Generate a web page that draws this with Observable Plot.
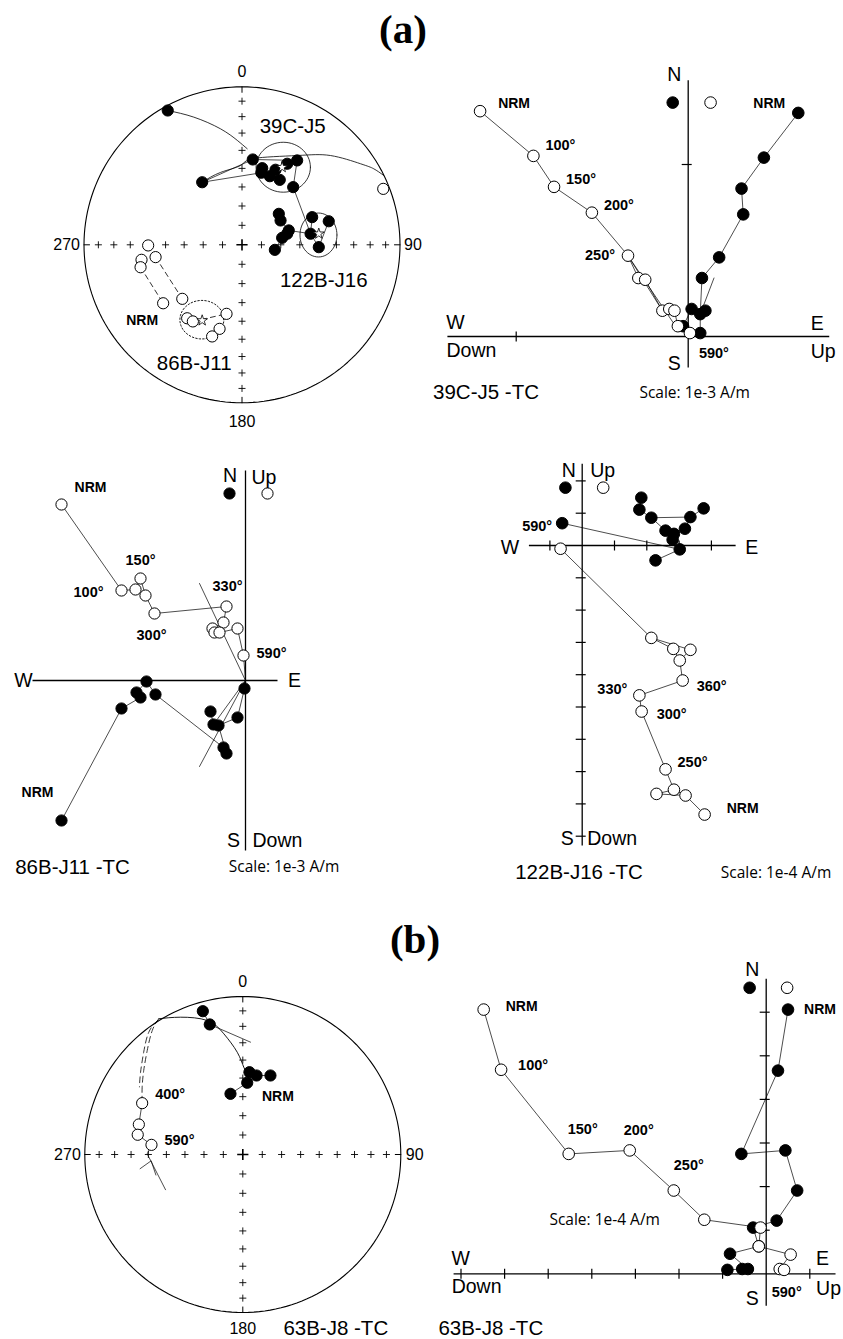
<!DOCTYPE html>
<html>
<head>
<meta charset="utf-8">
<script src="https://cdn.jsdelivr.net/npm/d3@7"></script>
<script src="https://cdn.jsdelivr.net/npm/@observablehq/plot@0.6"></script>
<style>
  html,body{margin:0;padding:0;background:#fff;}
  #page{position:relative;width:843px;height:1339px;overflow:hidden;background:#fff;}
  #page svg{position:absolute;left:0;top:0;}
  .cap{position:absolute;white-space:nowrap;line-height:1;transform:translate(-50%,-50%);color:#000;font-family:"Liberation Sans",Arial,sans-serif;}
  .title{font-family:"Liberation Serif","DejaVu Serif",serif;font-weight:bold;font-size:41px;}
  .spec{font-size:20.5px;}
  .scale{font-family:"Open Sans","Noto Sans",sans-serif;font-size:15.5px;}
</style>
</head>
<body>
<div id="page"></div>
<script>
// ======================= DATA =======================
// --- Equal-area stereonets: (east, north) positions as fraction of the primitive radius
const netIncs = [10, 20, 30, 40, 50, 60, 70, 80];
const cardinals = ["0", "90", "180", "270"];

// (a) site 39C-J5 (filled = lower hemisphere)
const s39c = [[-0.470,0.850],[-0.252,0.396],[0.068,0.540],[0.128,0.485],[0.122,0.456],[0.176,0.434],[0.212,0.475],[0.239,0.411],[0.286,0.513],[0.349,0.534],[0.324,0.365]];
const s39cOpen = [[0.894,0.354]];
const s39cMean = [[0.254,0.491]];
const s39cCone = [0.261,0.491,0.172,0.158];
const s39cArcs = [
  [[-0.470,0.850],[-0.305,0.808],[-0.136,0.734],[-0.030,0.661],[0.033,0.608]],
  [[-0.252,0.396],[-0.136,0.458],[-0.009,0.502],[0.073,0.546],[0.349,0.565],[0.560,0.565],[0.750,0.513],[0.834,0.481],[0.897,0.439]]
];
const s39cPaths = [[1,2],[1,4],[2,9,10],[3,5,7],[4,6,8]];

// (a) site 122B-J16
const s122b = [[0.233,0.196],[0.244,0.154],[0.296,0.091],[0.286,0.070],[0.254,0.044],[0.208,-0.032],[0.444,0.175],[0.549,0.149],[0.434,0.070],[0.486,-0.015]];
const s122bMean = [[0.486,0.070]];
const s122bCone = [0.484,0.062,0.117,0.139];
const s122bPaths = [[0,1,2,3,4,5],[2,8,6],[8,9,7]];

// (a) site 86B-J11 (open = upper hemisphere)
const s86b = [[-0.594,-0.004],[-0.636,-0.095],[-0.547,-0.078],[-0.642,-0.142],[-0.499,-0.370],[-0.378,-0.342],[-0.347,-0.465],[-0.311,-0.485],[-0.098,-0.437],[-0.142,-0.532],[-0.189,-0.580]];
const s86bMean = [[-0.252,-0.479]];
const s86bCone = [-0.254,-0.474,0.139,0.122];
const s86bDashed = [[3,4],[2,5],[7,8]];

// (b) site 63B-J8
const s63bFilled = [[-0.253,0.907],[-0.209,0.823],[0.042,0.521],[0.087,0.500],[0.175,0.500],[0.028,0.454],[-0.078,0.384]];
const s63bFilledPaths = [[0,1],[2,3,4],[3,5,6]];
const s63bOpen = [[-0.637,0.325],[-0.658,0.190],[-0.665,0.125],[-0.578,0.061]];
const s63bOpenPaths = [[0,1,2,3]];
const s63bArc = [[-0.532,0.859],[-0.394,0.869],[-0.225,0.848],[-0.120,0.764],[-0.035,0.647],[0.006,0.553],[0.028,0.521]];
const s63bFit = [[-0.209,0.823],[0.049,0.711]];
const s63bDashed = [
  [[-0.532,0.859],[-0.573,0.785],[-0.605,0.658],[-0.627,0.532],[-0.637,0.426],[-0.637,0.342]],
  [[-0.540,0.848],[-0.595,0.774],[-0.627,0.649],[-0.647,0.521],[-0.654,0.428]]
];
const s63bTail = [
  [[-0.578,0.061],[-0.605,0.004],[-0.489,-0.223]],
  [[-0.650,-0.090],[-0.580,-0.040],[-0.550,-0.130]]
];

// --- Zijderveld diagrams. filled = horizontal projection (E, N); open = vertical projection (Up, N)
// 39C-J5 (units 1e-3 A/m)
const z39cFilled = [[0.64,1.30],[0.44,1.04],[0.31,0.86],[0.32,0.71],[0.18,0.46],[0.08,0.34],[0.02,0.16],[0.07,0.13],[0.10,0.15],[-0.03,0.06],[0.07,0.02]];
const z39cOpen = [[-1.21,1.31],[-0.90,1.05],[-0.78,0.87],[-0.56,0.72],[-0.35,0.47],[-0.29,0.34],[-0.25,0.33],[-0.15,0.15],[-0.11,0.16],[-0.08,0.15],[-0.06,0.06],[0.01,0.02]];
const z39cFilledPaths = [[0,1,2,3,4,5,7,6,9,-1],[7,8],[7,10,-1]];
const z39cOpenPaths = [[0,1,2,3,4,5,6,7,8,9,10,11],[4,7]];
const z39cFits = [[[0.15,0.34],[0.07,0.13]],[[-0.33,0.44],[-0.06,0.04]]];
const z39cKey = [[-0.09,1.36],[0.13,1.36]];
const z39cAxisX = [-1.40, 0.82];
const z39cAxisY = [-0.18, 1.49];
const z39cTicksX = [-1];
const z39cTicksY = [1];
const z39cLabels = [["open",0,"NRM"],["open",1,"100°"],["open",2,"150°"],["open",3,"200°"],["open",4,"250°"],["filled",0,"NRM"],["open",11,"590°"]];
const z39cAxisText = [["N","top"],["S","bottom"],["W","left"],["E","right"],["Down","left"],["Up","right"]];

// 86B-J11
const z86bFilled = [[-1.84,-1.40],[-1.24,-0.28],[-1.09,-0.12],[-1.05,-0.17],[-0.99,-0.01],[-0.90,-0.14],[-0.35,-0.31],[-0.32,-0.44],[-0.27,-0.45],[-0.08,-0.37],[-0.22,-0.67],[-0.19,-0.73],[-0.01,-0.08]];
const z86bOpen = [[-1.84,1.76],[-1.24,0.90],[-1.05,1.02],[-1.10,0.91],[-1.00,0.85],[-0.91,0.67],[-0.19,0.74],[-0.22,0.58],[-0.33,0.52],[-0.31,0.48],[-0.26,0.48],[-0.08,0.52],[-0.02,0.25]];
const z86bFilledPaths = [[0,1,3,2,4,5,10,11,8,7,6],[8,9,12,-1],[-1,7]];
const z86bOpenPaths = [[0,1,3,2,4,5,6,7,8,9,10,11,12,-1]];
const z86bFits = [[[-0.46,0.97],[0,0]],[[-0.46,-0.86],[0,0]]];
const z86bKey = [[-0.16,1.87],[0.22,1.87]];
const z86bAxisX = [-2.13, 0.32];
const z86bAxisY = [-1.70, 2.10];
const z86bTicksX = [];
const z86bTicksY = [];
const z86bLabels = [["open",0,"NRM"],["open",2,"150°"],["open",1,"100°"],["open",6,"330°"],["open",5,"300°"],["open",12,"590°"],["filled",0,"NRM"]];
const z86bAxisText = [["N","top"],["Up","top"],["W","left"],["E","right"],["S","bottom"],["Down","bottom"]];

// 122B-J16 (units 1e-4 A/m)
const z122bFilled = [[1.83,1.48],[1.77,1.11],[2.14,0.86],[3.35,0.88],[3.76,1.15],[2.58,0.46],[2.84,0.36],[3.18,0.52],[2.80,0.18],[3.02,-0.12],[2.27,-0.46],[-0.62,0.69]];
const z122bOpen = [[-0.67,-0.10],[2.14,-2.86],[2.82,-3.20],[3.35,-3.23],[3.02,-3.56],[3.11,-4.18],[1.77,-4.64],[1.84,-5.14],[2.58,-6.93],[2.84,-7.56],[2.30,-7.69],[3.20,-7.74],[3.79,-8.33]];
const z122bFilledPaths = [[0,1,2,3,4],[2,5,6,8,9,10],[3,7,6],[11,9]];
const z122bOpenPaths = [[12,11,9,8,7,6,5,4,3,1,0],[11,10,9],[1,2,4]];
const z122bFits = [];
const z122bKey = [[-0.52,1.79],[0.65,1.79]];
const z122bAxisX = [-1.65, 4.75];
const z122bAxisY = [-9.29, 2.53];
const z122bTicksX = [-1, 1, 2, 3, 4];
const z122bTicksY = [2, 1, -1, -2, -3, -4, -5, -6, -7, -8, -9];
const z122bLabels = [["filled",11,"590°"],["open",6,"330°"],["open",5,"360°"],["open",7,"300°"],["open",8,"250°"],["open",12,"NRM"]];
const z122bAxisText = [["N","top"],["Up","top"],["W","left"],["E","right"],["S","bottom"],["Down","bottom"]];

// 63B-J8 (units 1e-4 A/m)
const z63bFilled = [[0.50,6.06],[0.27,4.66],[-0.57,2.75],[0.44,2.83],[0.71,1.91],[0.24,1.22],[-0.30,1.06],[-0.17,0.63],[-0.83,0.46],[-0.89,0.09],[-0.55,0.11],[-0.42,0.11]];
const z63bOpen = [[-6.48,6.06],[-6.08,4.68],[-4.53,2.75],[-3.13,2.83],[-2.12,1.91],[-1.42,1.24],[-0.13,1.06],[-0.17,0.63],[0.56,0.44],[0.31,0.11],[0.41,0.09]];
const z63bFilledPaths = [[0,1,2,3,4,5,6,7,8,11,10,9]];
const z63bOpenPaths = [[0,1,2,3,4,5,6,7,8,9,10]];
const z63bFits = [];
const z63bKey = [[-0.38,6.56],[0.48,6.56]];
const z63bAxisX = [-7.17, 1.59];
const z63bAxisY = [-0.73, 6.77];
const z63bTicksX = [-7, -6, -5, -4, -3, -2, -1, 1];
const z63bTicksY = [1, 2, 3, 4, 5, 6];
const z63bLabels = [["open",0,"NRM"],["open",1,"100°"],["open",2,"150°"],["open",3,"200°"],["open",4,"250°"],["filled",0,"NRM"],["open",9,"590°"]];
const z63bAxisText = [["N","top"],["S","bottom"],["W","left"],["E","right"],["Down","left"],["Up","right"]];

// --- captions
const panelTitles = ["(a)", "(b)"];
const specimenCaptions = ["39C-J5 -TC", "86B-J11 -TC", "122B-J16 -TC", "63B-J8 -TC", "63B-J8 -TC"];
const scaleCaptions = ["Scale: 1e-3 A/m", "Scale: 1e-3 A/m", "Scale: 1e-4 A/m", "Scale: 1e-4 A/m"];

// ======================= LAYOUT =======================
const W = 843, H = 1339;
const layout = {
  s39c: {cx: 241.5, cy: 244.3, R: 158, r: 5.6, card: [[0,-14.5,"middle"],[4,0,"start"],[0,19,"middle"],[-4,0,"end"]]},
  s63b: {cx: 242.3, cy: 1154, R: 158, r: 5.6, card: [[0,-14.5,"middle"],[5,0,"start"],[0,16,"middle"],[-4,0,"end"]]},
  z39c: {ox: 687.7, oy: 336, s: 172, r: 5.8,
    labelOffsets: [[34,-8],[27,-11],[27,-8],[27,-7],[-28,0],[-29,-9],[24,20]],
    axisOffsets: [[-14,-5,"middle"],[-14,-4,"middle"],[8,-14,"middle"],[-12,-13,"middle"],[24,14,"middle"],[-6,15,"middle"]]},
  z86b: {ox: 245, oy: 680, s: 100, r: 5.6,
    labelOffsets: [[29,-17],[0,-18],[-33,2],[1,-20],[-3,22],[28,-2],[-24,-28]],
    axisOffsets: [[-15.5,5,"middle"],[6,7,"start"],[-9,0,"middle"],[17,0,"middle"],[-12,-10,"middle"],[7,-10,"start"]]},
  z122b: {ox: 581.7, oy: 545, s: 32.3, r: 5.8,
    labelOffsets: [[-25,3],[-27,-6],[29,6],[30,3],[27,-7],[38,-6]],
    axisOffsets: [[-13.4,6.7,"middle"],[8,6.7,"start"],[-19,2,"middle"],[16,2,"middle"],[-15,-7,"middle"],[5,-7,"start"]]},
  z63b: {ox: 765.7, oy: 1273.3, s: 43.6, r: 5.8,
    labelOffsets: [[38,-3],[32,-4],[14,-25],[9,-20],[15,-25],[32,0],[7,23]],
    axisOffsets: [[-14,-9,"middle"],[-14,-7,"middle"],[7,-15,"middle"],[-13,-15,"middle"],[23,13,"middle"],[-7,15,"middle"]]},
  titles: [[403,29],[415,939]],
  specimens: [[486,391.7],[72.5,866.7],[579,871.7],[335.8,1328.3],[490.8,1328.3]],
  scales: [[694.7,393.3],[284,866.7],[776,873.3],[604.7,1220]]
};

// ======================= DRAWING =======================
const page = document.getElementById("page");
const X = d => d[0], Y = d => d[1];
const FONT = "'Liberation Sans', Arial, Helvetica, sans-serif";

function addPlot(marks, ox, oy, s) {
  const chart = Plot.plot({
    width: W, height: H, margin: 0,
    x: {domain: [(0 - ox) / s, (W - ox) / s], axis: null},
    y: {domain: [(oy - H) / s, oy / s], axis: null},
    style: {background: "transparent", fontFamily: FONT, overflow: "visible", color: "#000"},
    marks
  });
  page.appendChild(chart);
}

const thin = {x: X, y: Y, stroke: "#000", strokeWidth: 0.7, fill: "none"};
const filledDot = r => ({x: X, y: Y, r, fill: "#000", stroke: "#000", strokeWidth: 1});
const openDot = r => ({x: X, y: Y, r, fill: "#fff", stroke: "#000", strokeWidth: 1});
const starDot = {x: X, y: Y, symbol: "star", r: 3.4, fill: "#fff", stroke: "#000", strokeWidth: 0.8};
const ellipse = c => d3.range(0, 361, 6).map(a => [c[0] + c[2] * Math.cos(a * Math.PI / 180), c[1] + c[3] * Math.sin(a * Math.PI / 180)]);
const label = (p, text, dx, dy, opts = {}) => Plot.text([p], {x: X, y: Y, text: () => text, dx, dy, fontSize: 14.5, fontWeight: "bold", ...opts});

function netFrame(L) {
  const circle = d3.range(0, 361, 2).map(a => [Math.sin(a * Math.PI / 180), Math.cos(a * Math.PI / 180)]);
  const rr = netIncs.map(i => Math.SQRT2 * Math.sin((90 - i) / 2 * Math.PI / 180));
  const crosses = rr.flatMap(r => [[0, r], [r, 0], [0, -r], [-r, 0]]);
  const cardPts = [[0, 1], [1, 0], [0, -1], [-1, 0]];
  const marks = [
    Plot.line(circle, {x: X, y: Y, stroke: "#000", strokeWidth: 1.1, fill: "none"}),
    Plot.dot(crosses, {x: X, y: Y, symbol: "plus", r: 2.4, stroke: "#000", strokeWidth: 0.9, fill: "none"}),
    Plot.dot([[0, 0]], {x: X, y: Y, symbol: "plus", r: 3.7, stroke: "#000", strokeWidth: 1.6, fill: "none"}),
    ...cardPts.map(p => Plot.line([[p[0] * 0.965, p[1] * 0.965], [p[0] * 1.0, p[1] * 1.0]], {...thin, strokeWidth: 1}))
  ];
  cardinals.forEach((t, k) => {
    const [dx, dy, anchor] = L.card[k];
    marks.push(Plot.text([cardPts[k]], {x: X, y: Y, text: () => t, dx, dy, textAnchor: anchor, fontSize: 16}));
  });
  return marks;
}

// ---- Stereonet (a)
{
  const L = layout.s39c;
  const marks = [
    ...netFrame(L),
    ...s39cArcs.map(a => Plot.line(a, {...thin, curve: "natural", strokeWidth: 0.8})),
    ...s39cPaths.map(p => Plot.line(p.map(i => s39c[i]), thin)),
    Plot.line([s39c[10], s122b[8]], thin),
    Plot.line(ellipse(s39cCone), {...thin, strokeWidth: 0.8}),
    ...s122bPaths.map(p => Plot.line(p.map(i => s122b[i]), thin)),
    Plot.line(ellipse(s122bCone), {...thin, strokeWidth: 0.8}),
    Plot.line(ellipse(s86bCone), {...thin, strokeWidth: 0.9, strokeDasharray: "1.5,2"}),
    ...s86bDashed.map(p => Plot.line(p.map(i => s86b[i]), {...thin, strokeWidth: 0.8, strokeDasharray: "5,4"})),
    Plot.dot(s39c, filledDot(L.r)),
    Plot.dot(s122b, filledDot(L.r)),
    Plot.dot(s39cOpen, openDot(L.r)),
    Plot.dot(s86b, openDot(L.r)),
    Plot.dot(s39cMean, starDot),
    Plot.dot(s122bMean, starDot),
    Plot.dot(s86bMean, starDot),
    label(s39cMean[0], "39C-J5", 10.6, -41, {fontSize: 20.5, fontWeight: "normal"}),
    label(s122bMean[0], "122B-J16", 5, 47, {fontSize: 20.5, fontWeight: "normal"}),
    label(s86bMean[0], "86B-J11", -8, 42.5, {fontSize: 20.5, fontWeight: "normal"}),
    label(s86b[4], "NRM", -21, 17.3, {fontSize: 14})
  ];
  addPlot(marks, L.cx, L.cy, L.R);
}

// ---- Stereonet (b)
{
  const L = layout.s63b;
  const marks = [
    ...netFrame(L),
    Plot.line(s63bArc, {...thin, curve: "natural", strokeWidth: 0.9}),
    Plot.line(s63bFit, thin),
    ...s63bDashed.map(a => Plot.line(a, {...thin, curve: "natural", strokeWidth: 0.8, strokeDasharray: "6,4"})),
    ...s63bTail.map(a => Plot.line(a, thin)),
    ...s63bFilledPaths.map(p => Plot.line(p.map(i => s63bFilled[i]), thin)),
    ...s63bOpenPaths.map(p => Plot.line(p.map(i => s63bOpen[i]), thin)),
    Plot.dot(s63bFilled, filledDot(L.r)),
    Plot.dot(s63bOpen, openDot(L.r)),
    label(s63bOpen[0], "400°", 28, -9),
    label(s63bOpen[3], "590°", 28, -5),
    label(s63bFilled[4], "NRM", 7.5, 21, {fontSize: 14})
  ];
  addPlot(marks, L.cx, L.cy, L.R);
}

// ---- Zijderveld diagrams
function zijderveld(L, D) {
  const pt = (arr, i) => (i < 0 ? [0, 0] : arr[i]);
  const t = 5 / L.s;
  const marks = [
    Plot.link([0], {x1: () => D.axisX[0], x2: () => D.axisX[1], y1: () => 0, y2: () => 0, stroke: "#000", strokeWidth: 1.3}),
    Plot.link([0], {x1: () => 0, x2: () => 0, y1: () => D.axisY[0], y2: () => D.axisY[1], stroke: "#000", strokeWidth: 1.3}),
    Plot.link(D.ticksX, {x1: d => d, x2: d => d, y1: () => -t, y2: () => t, stroke: "#000", strokeWidth: 1.2}),
    Plot.link(D.ticksY, {y1: d => d, y2: d => d, x1: () => -t * 1.3, x2: () => t * 0.7, stroke: "#000", strokeWidth: 1.2}),
    ...D.fits.map(f => Plot.line(f, thin)),
    ...D.filledPaths.map(p => Plot.line(p.map(i => pt(D.filled, i)), thin)),
    ...D.openPaths.map(p => Plot.line(p.map(i => pt(D.open, i)), thin)),
    Plot.dot(D.filled, filledDot(L.r)),
    Plot.dot(D.open, openDot(L.r)),
    Plot.dot([D.key[0]], filledDot(L.r)),
    Plot.dot([D.key[1]], openDot(L.r))
  ];
  D.labels.forEach(([series, i, text], k) => {
    const p = series === "open" ? D.open[i] : D.filled[i];
    const [dx, dy] = L.labelOffsets[k];
    marks.push(label(p, text, dx, dy, text === "NRM" ? {fontSize: 14} : {}));
  });
  const ends = {top: [0, D.axisY[1]], bottom: [0, D.axisY[0]], left: [D.axisX[0], 0], right: [D.axisX[1], 0]};
  D.axisText.forEach(([text, end], k) => {
    const [dx, dy, anchor] = L.axisOffsets[k];
    marks.push(Plot.text([ends[end]], {x: X, y: Y, text: () => text, dx, dy, fontSize: 19.5, textAnchor: anchor}));
  });
  addPlot(marks, L.ox, L.oy, L.s);
}

zijderveld(layout.z39c, {filled: z39cFilled, open: z39cOpen, filledPaths: z39cFilledPaths, openPaths: z39cOpenPaths, fits: z39cFits, key: z39cKey, axisX: z39cAxisX, axisY: z39cAxisY, ticksX: z39cTicksX, ticksY: z39cTicksY, labels: z39cLabels, axisText: z39cAxisText});
zijderveld(layout.z86b, {filled: z86bFilled, open: z86bOpen, filledPaths: z86bFilledPaths, openPaths: z86bOpenPaths, fits: z86bFits, key: z86bKey, axisX: z86bAxisX, axisY: z86bAxisY, ticksX: z86bTicksX, ticksY: z86bTicksY, labels: z86bLabels, axisText: z86bAxisText});
zijderveld(layout.z122b, {filled: z122bFilled, open: z122bOpen, filledPaths: z122bFilledPaths, openPaths: z122bOpenPaths, fits: z122bFits, key: z122bKey, axisX: z122bAxisX, axisY: z122bAxisY, ticksX: z122bTicksX, ticksY: z122bTicksY, labels: z122bLabels, axisText: z122bAxisText});
zijderveld(layout.z63b, {filled: z63bFilled, open: z63bOpen, filledPaths: z63bFilledPaths, openPaths: z63bOpenPaths, fits: z63bFits, key: z63bKey, axisX: z63bAxisX, axisY: z63bAxisY, ticksX: z63bTicksX, ticksY: z63bTicksY, labels: z63bLabels, axisText: z63bAxisText});

// ---- captions
function caption(text, [x, y], cls) {
  const d = document.createElement("div");
  d.className = "cap " + cls;
  d.textContent = text;
  d.style.left = x + "px";
  d.style.top = y + "px";
  page.appendChild(d);
}
panelTitles.forEach((t, i) => caption(t, layout.titles[i], "title"));
specimenCaptions.forEach((t, i) => caption(t, layout.specimens[i], "spec"));
scaleCaptions.forEach((t, i) => caption(t, layout.scales[i], "scale"));
</script>
</body>
</html>
